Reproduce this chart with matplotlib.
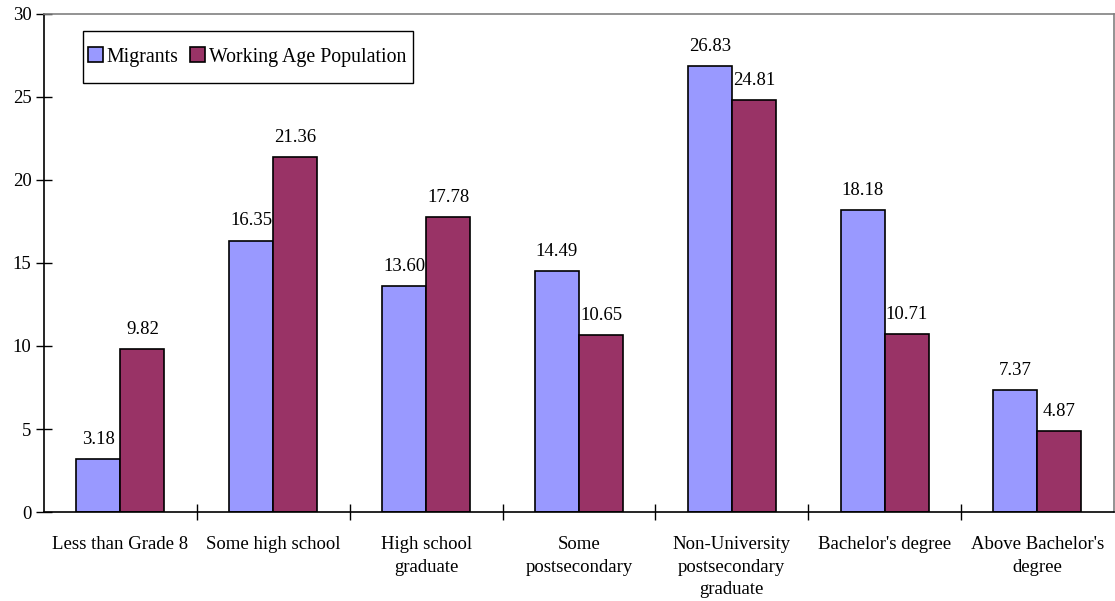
import numpy as np
from matplotlib import pyplot as plt
from matplotlib.patches import Rectangle
from matplotlib.ticker import FixedLocator

plt.rcParams['font.family'] = ['Liberation Serif', 'DejaVu Serif']

categories = ["Less than Grade 8", "Some high school", "High school\ngraduate",
              "Some\npostsecondary", "Non-University\npostsecondary\ngraduate",
              "Bachelor's degree", "Above Bachelor's\ndegree"]
migrants = [3.18, 16.35, 13.60, 14.49, 26.83, 18.18, 7.37]
working_age = [9.82, 21.36, 17.78, 10.65, 24.81, 10.71, 4.87]

W, H = 1115, 601
fig = plt.figure(figsize=(W / 100, H / 100), dpi=100)
ax = fig.add_axes([0.0395, 0.148, 0.9595, 0.829])

x = np.arange(len(categories))
w = 0.288
b1 = ax.bar(x - w / 2, migrants, w, color='#9999ff', edgecolor='black', linewidth=1.2,
            label='Migrants')
b2 = ax.bar(x + w / 2, working_age, w, color='#993366', edgecolor='black', linewidth=1.2,
            label='Working Age Population')

for bars, vals in ((b1, migrants), (b2, working_age)):
    for bar, v in zip(bars, vals):
        ax.annotate(f"{v:.2f}", (bar.get_x() + bar.get_width() / 2, v),
                    xytext=(0, 8), textcoords='offset points',
                    ha='center', va='bottom', fontsize=13.5)

ax.set_xlim(-0.5, len(categories) - 0.5)
ax.set_ylim(0, 30)
ax.set_yticks(np.arange(0, 31, 5))
ax.set_xticks(x)
ax.set_xticklabels(categories, fontsize=13.5, va='top', linespacing=1.45)
ax.tick_params(axis='x', length=0, pad=17)
ax.xaxis.set_minor_locator(FixedLocator(np.arange(0.5, len(categories) - 1, 1)))
ax.tick_params(axis='x', which='minor', direction='inout', length=12, width=1)
ax.tick_params(axis='y', direction='inout', length=12, width=1, labelsize=13.5, pad=3)

for side in ('left', 'bottom'):
    ax.spines[side].set_linewidth(1.2)
for side in ('top', 'right'):
    ax.spines[side].set_color('#808080')
    ax.spines[side].set_linewidth(1.2)

# legend entries without frame, box drawn separately for wider vertical padding
leg = ax.legend(loc='center left', bbox_to_anchor=(88 / W, 1 - 57 / H),
                bbox_transform=fig.transFigure, ncol=2, fontsize=14.3,
                frameon=False, borderpad=0, borderaxespad=0,
                handlelength=0.75, handleheight=0.75, handletextpad=0.2,
                columnspacing=0.55)
for h in leg.legend_handles:
    h.set_linewidth(1.2)
fig.add_artist(Rectangle((83 / W, 1 - 83 / H), 330 / W, 52 / H,
                         transform=fig.transFigure, fill=False,
                         edgecolor='black', linewidth=1.0))

fig.savefig('out.png', dpi=100)
